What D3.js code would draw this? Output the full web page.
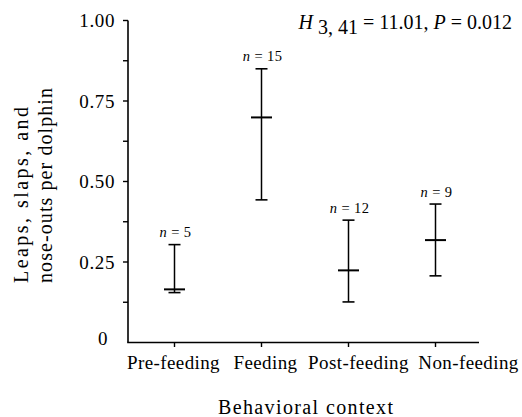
<!DOCTYPE html>
<html>
<head>
<meta charset="utf-8">
<script src="https://cdn.jsdelivr.net/npm/d3@7"></script>
<style>
  html, body { margin: 0; padding: 0; background: #fff; }
  svg { display: block; }
  text { font-family: "Liberation Serif", "Times New Roman", serif; fill: #000; }
</style>
</head>
<body>
<svg id="chart" width="522" height="417"></svg>
<script>
// ---- data ----
const categories = ["Pre-feeding", "Feeding", "Post-feeding", "Non-feeding"];
const means      = [0.165, 0.699, 0.224, 0.318];
const upper      = [0.304, 0.850, 0.380, 0.430];
const lower      = [0.155, 0.443, 0.126, 0.207];
const sampleN    = [5, 15, 12, 9];
const yMajorTicks = [0, 0.25, 0.5, 0.75, 1.0];
const yTickLabels = ["0", "0.25", "0.50", "0.75", "1.00"];
const yMinorTicks = [0.125, 0.375, 0.625, 0.875];
const yTitleLines = ["Leaps, slaps, and", "nose-outs per dolphin"];
const xTitle = "Behavioral context";

const svg = d3.select("#chart");
const axisLeft = 128, axisRight = 479;
const y = d3.scaleLinear().domain([0, 1]).range([342.5, 20.5]);
const x = d3.scalePoint().domain(categories).range([131, 479]).padding(0.5);

// axis lines
const axisG = svg.append("g");
axisG.append("line").attr("x1", axisLeft).attr("x2", axisLeft)
  .attr("y1", y(1)).attr("y2", y(0)).attr("stroke", "#000").attr("stroke-width", 1.6);
axisG.append("line").attr("x1", axisLeft - 0.8).attr("x2", axisRight)
  .attr("y1", y(0)).attr("y2", y(0)).attr("stroke", "#000").attr("stroke-width", 1.6);

// y ticks (major + minor)
const allY = yMajorTicks.concat(yMinorTicks).filter(v => v > 0);
axisG.selectAll(".ytick").data(allY).enter().append("line")
  .attr("x1", axisLeft - 5).attr("x2", axisLeft)
  .attr("y1", d => y(d)).attr("y2", d => y(d))
  .attr("stroke", "#000").attr("stroke-width", 1.4);

// y tick labels
axisG.selectAll(".ylab").data(yMajorTicks).enter().append("text")
  .attr("x", d => d === 0 ? 108 : 115)
  .attr("y", d => d === 0 ? y(d) - 4 : y(d))
  .attr("dy", "0.35em")
  .attr("text-anchor", "end")
  .style("font-size", "19px")
  .style("letter-spacing", "0.6px")
  .text((d, i) => yTickLabels[i]);

// x ticks
axisG.selectAll(".xtick").data(categories).enter().append("line")
  .attr("x1", d => x(d)).attr("x2", d => x(d))
  .attr("y1", y(0)).attr("y2", y(0) + 4.5)
  .attr("stroke", "#000").attr("stroke-width", 1.4);

// x tick labels (the printed labels are spread slightly wider than the ticks)
const labelShift = [-1, 4, 10, 33];
axisG.selectAll(".xlab").data(categories).enter().append("text")
  .attr("x", (d, i) => x(d) + labelShift[i]).attr("y", 369)
  .attr("text-anchor", "middle")
  .style("font-size", "19px")
  .style("letter-spacing", "0.4px")
  .text(d => d);

// axis titles
svg.append("text").attr("x", 218).attr("y", 414)
  .attr("textLength", 175).attr("lengthAdjust", "spacing")
  .style("font-size", "20px")
  .text(xTitle);

const yt = svg.append("text")
  .attr("transform", "translate(0,283) rotate(-90)")
  .style("font-size", "20px");
const yLens = [176, 195];
yt.selectAll("tspan").data(yTitleLines).enter().append("tspan")
  .attr("x", 0).attr("y", (d, i) => 28 + i * 24)
  .attr("textLength", (d, i) => yLens[i]).attr("lengthAdjust", "spacing")
  .text(d => d);

// statistics annotation
const st = svg.append("text").attr("x", 512).attr("y", 29)
  .attr("text-anchor", "end").style("font-size", "20px");
st.append("tspan").style("font-style", "italic").text("H");
st.append("tspan").attr("dy", 5).attr("dx", 5).text("3, 41");
st.append("tspan").attr("dy", -5).text(" = 11.01, ");
st.append("tspan").style("font-style", "italic").text("P");
st.append("tspan").text(" = 0.012");

// error bars
const bars = svg.append("g").selectAll("g").data(categories).enter().append("g");
bars.append("line")
  .attr("x1", d => x(d)).attr("x2", d => x(d))
  .attr("y1", (d, i) => y(upper[i])).attr("y2", (d, i) => y(lower[i]))
  .attr("stroke", "#000").attr("stroke-width", 1.5);
bars.append("line")
  .attr("x1", d => x(d) - 6).attr("x2", d => x(d) + 6)
  .attr("y1", (d, i) => y(upper[i])).attr("y2", (d, i) => y(upper[i]))
  .attr("stroke", "#000").attr("stroke-width", 1.6);
bars.append("line")
  .attr("x1", d => x(d) - 6).attr("x2", d => x(d) + 6)
  .attr("y1", (d, i) => y(lower[i])).attr("y2", (d, i) => y(lower[i]))
  .attr("stroke", "#000").attr("stroke-width", 1.6);
bars.append("line")
  .attr("x1", d => x(d) - 10.5).attr("x2", d => x(d) + 10.5)
  .attr("y1", (d, i) => y(means[i])).attr("y2", (d, i) => y(means[i]))
  .attr("stroke", "#000").attr("stroke-width", 2);

// n labels
const nl = bars.append("text")
  .attr("x", d => x(d) + 1)
  .attr("y", (d, i) => y(upper[i]) - 7.5)
  .attr("text-anchor", "middle")
  .style("font-size", "14.5px")
  .style("letter-spacing", "0.4px");
nl.append("tspan").style("font-style", "italic").text("n");
nl.append("tspan").text((d, i) => " = " + sampleN[i]);
</script>
</body>
</html>
